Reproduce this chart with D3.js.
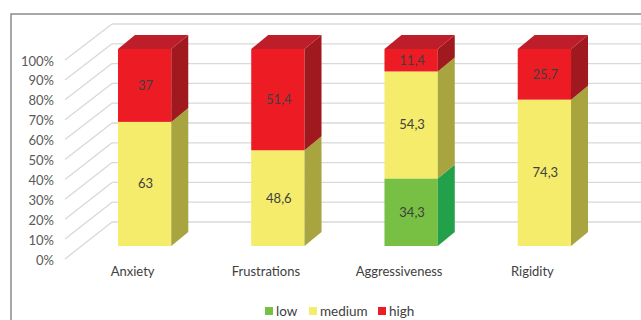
<!DOCTYPE html>
<html>
<head>
<meta charset="utf-8">
<script src="https://cdn.jsdelivr.net/npm/d3@7"></script>
<style>
  body { margin: 0; background: #fff; }
  svg { display: block; font-family: Lato, "Open Sans", sans-serif; }
</style>
</head>
<body>
<script>
var categories = ["Anxiety", "Frustrations", "Aggressiveness", "Rigidity"];
var low = [0, 0, 34.3, 0];
var medium = [63, 48.6, 54.3, 74.3];
var high = [37, 51.4, 11.4, 25.7];
var seriesNames = ["low", "medium", "high"];

var colors = {
  low:    {front: "#77c043", side: "#23a04a", top: "#4f9e35"},
  medium: {front: "#f4ec6a", side: "#a8a540", top: "#c9c24e"},
  high:   {front: "#ed1c24", side: "#a0191f", top: "#be1e2a"}
};

var width = 641, height = 320;

var svg = d3.select("body").append("svg")
  .attr("width", width)
  .attr("height", height);

// frame
svg.append("rect")
  .attr("x", 11).attr("y", 14)
  .attr("width", 700).attr("height", 400)
  .attr("fill", "none")
  .attr("stroke", "#8c8c8c")
  .attr("stroke-width", 1.5);

// scales
var yFront = d3.scaleLinear().domain([0, 100]).range([259, 60]);
var yBack = d3.scaleLinear().domain([0, 100]).range([222, 24]);
var yBar = d3.scaleLinear().domain([0, 100]).range([246, 49]);

var x = d3.scaleBand().domain(categories).range([78, 611]);
var barW = x.bandwidth() * 0.4;
var depthX = 17, depthY = -14;

var wallLeft = 112, wallFront = 65;

// grid
var ticks = yFront.ticks(10);
var grid = svg.append("g").attr("stroke", "#d9d9d9").attr("stroke-width", 1.3).attr("fill", "none");
grid.selectAll(".diag").data(ticks).enter().append("line")
  .attr("x1", wallFront).attr("y1", function(d) { return yFront(d); })
  .attr("x2", wallLeft).attr("y2", function(d) { return yBack(d); });
grid.selectAll(".back").data(ticks).enter().append("line")
  .attr("x1", wallLeft).attr("y1", function(d) { return yBack(d); })
  .attr("x2", width + 5).attr("y2", function(d) { return yBack(d); });

// y tick labels
svg.append("g").selectAll("text").data(ticks).enter().append("text")
  .attr("x", 54)
  .attr("y", function(d) { return yFront(d) + 1; })
  .attr("dy", "0.35em")
  .attr("text-anchor", "end")
  .attr("font-size", 13)
  .attr("fill", "#595959")
  .text(function(d) { return d + "%"; });

// stacks
var rows = categories.map(function(c, i) {
  return {cat: c, low: low[i], medium: medium[i], high: high[i]};
});
var stack = d3.stack().keys(seriesNames)(rows);

var loc = d3.formatLocale({decimal: ",", thousands: ".", grouping: [3], currency: ["", ""]});
var fmt = loc.format(".1~f");

var bars = svg.append("g");
categories.forEach(function(c, i) {
  var x0 = x(c) + (x.bandwidth() - barW) / 2;
  var x1 = x0 + barW;
  var segs = stack.map(function(s) {
    return {key: s.key, y0: s[i][0], y1: s[i][1]};
  }).filter(function(s) { return s.y1 - s.y0 > 0; });
  var g = bars.append("g");
  segs.forEach(function(s) {
    var col = colors[s.key];
    g.append("rect")
      .attr("x", x0).attr("y", yBar(s.y1))
      .attr("width", barW).attr("height", yBar(s.y0) - yBar(s.y1))
      .attr("fill", col.front);
    g.append("path")
      .attr("d", "M" + x1 + "," + yBar(s.y0) +
        "L" + x1 + "," + yBar(s.y1) +
        "L" + (x1 + depthX) + "," + (yBar(s.y1) + depthY) +
        "L" + (x1 + depthX) + "," + (yBar(s.y0) + depthY) + "Z")
      .attr("fill", col.side);
  });
  var topSeg = segs[segs.length - 1];
  var yt = yBar(topSeg.y1);
  g.append("path")
    .attr("d", "M" + x0 + "," + yt + "L" + x1 + "," + yt +
      "L" + (x1 + depthX) + "," + (yt + depthY) +
      "L" + (x0 + depthX) + "," + (yt + depthY) + "Z")
    .attr("fill", colors[topSeg.key].top);
  segs.forEach(function(s) {
    g.append("text")
      .attr("x", (x0 + x1) / 2 + 1)
      .attr("y", yBar((s.y0 + s.y1) / 2))
      .attr("dy", "0.35em")
      .attr("text-anchor", "middle")
      .attr("font-size", 13)
      .attr("fill", "#404040")
      .text(fmt(s.y1 - s.y0));
  });
});

// category labels (front plane)
svg.append("g").selectAll("text").data(categories).enter().append("text")
  .attr("x", function(d) { return x(d) + x.bandwidth() / 2 - 12; })
  .attr("y", 276)
  .attr("text-anchor", "middle")
  .attr("font-size", 13)
  .attr("fill", "#404040")
  .text(function(d) { return d; });

// legend
var legendX = [265, 309, 378];
var legend = svg.append("g").selectAll("g").data(seriesNames).enter().append("g")
  .attr("transform", function(d, i) { return "translate(" + legendX[i] + ",307)"; });
legend.append("rect")
  .attr("width", 8).attr("height", 8)
  .attr("fill", function(d) { return colors[d].front; });
legend.append("text")
  .attr("x", 11).attr("y", 4)
  .attr("dy", "0.35em")
  .attr("font-size", 13.5)
  .attr("fill", "#404040")
  .text(function(d) { return d; });
</script>
</body>
</html>
